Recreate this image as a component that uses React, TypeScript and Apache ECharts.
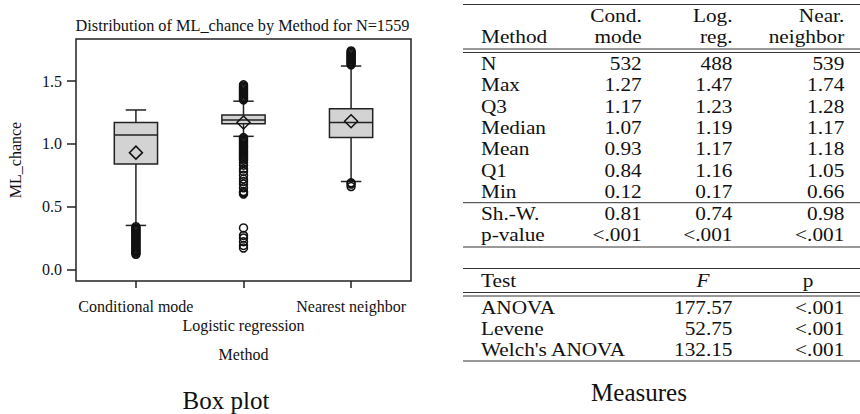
import React, { useEffect, useRef } from 'react';
import * as echarts from 'echarts';

// ---------- Box plot data ----------
const categories = ['Conditional mode', 'Logistic regression', 'Nearest neighbor'];
const whiskerLow = [0.35, 1.06, 0.70];
const q1 = [0.84, 1.16, 1.05];
const medians = [1.07, 1.19, 1.17];
const q3 = [1.17, 1.23, 1.28];
const whiskerHigh = [1.27, 1.34, 1.62];
const means = [0.93, 1.17, 1.18];

const outliersCond = [
  0.12, 0.13, 0.14, 0.15, 0.16, 0.17, 0.18, 0.19, 0.2, 0.21, 0.22, 0.23,
  0.24, 0.25, 0.26, 0.27, 0.28, 0.29, 0.3, 0.31, 0.32, 0.33, 0.34,
];
const outliersLog = [
  1.35, 1.36, 1.37, 1.38, 1.39, 1.4, 1.41, 1.42, 1.43, 1.44, 1.45, 1.46, 1.47,
  1.05, 1.04, 1.03, 1.02, 1.01, 1.0, 0.99, 0.98, 0.97, 0.96, 0.95, 0.94, 0.93,
  0.92, 0.91, 0.9, 0.89, 0.88, 0.87, 0.85, 0.83, 0.8, 0.78, 0.75, 0.72, 0.7,
  0.68, 0.65, 0.62, 0.61, 0.6, 0.33, 0.27, 0.25, 0.22, 0.19, 0.17,
];
const outliersNear = [
  0.66, 0.68, 0.69, 1.63, 1.64, 1.65, 1.66, 1.67, 1.68, 1.69, 1.7, 1.71, 1.72,
  1.73, 1.74,
];
const yTickValues = [0, 0.5, 1.0, 1.5];
const yRange = [-0.0928, 1.8355];
const xRange = [-0.557, 2.557];

const plotTitle = 'Distribution of ML_chance by Method for N=1559';
const yName = 'ML_chance';
const xName = 'Method';
const leftCaption = 'Box plot';
const rightCaption = 'Measures';

// ---------- Table data ----------
const headerTop = ['', 'Cond.', 'Log.', 'Near.'];
const headerBottom = ['Method', 'mode', 'reg.', 'neighbor'];
const statLabels = ['N', 'Max', 'Q3', 'Median', 'Mean', 'Q1', 'Min'];
const statCond = ['532', '1.27', '1.17', '1.07', '0.93', '0.84', '0.12'];
const statLog = ['488', '1.47', '1.23', '1.19', '1.17', '1.16', '0.17'];
const statNear = ['539', '1.74', '1.28', '1.17', '1.18', '1.05', '0.66'];
const normLabels = ['Sh.-W.', 'p-value'];
const normCond = ['0.81', '<.001'];
const normLog = ['0.74', '<.001'];
const normNear = ['0.98', '<.001'];
const testHeader = ['Test', 'F', 'p'];
const testNames = ['ANOVA', 'Levene', "Welch's ANOVA"];
const testF = ['177.57', '52.75', '132.15'];
const testP = ['<.001', '<.001', '<.001'];

const FAMILY = "'Liberation Serif', 'Times New Roman', serif";
const INK = '#111';
const LINE = '#222';

function txt(
  x: number,
  y: number,
  text: string,
  size: number,
  align: string,
  extra: any = {}
) {
  const { scaleX, italic } = extra;
  return {
    type: 'text',
    x,
    y,
    scaleX: scaleX ?? 1,
    silent: true,
    style: {
      text,
      x: 0,
      y: 0,
      fill: INK,
      font: `${italic ? 'italic ' : ''}${size}px ${FAMILY}`,
      align,
      textAlign: align,
      verticalAlign: 'middle',
      textVerticalAlign: 'middle',
    },
  };
}

function rule(y: number, w = 1) {
  return {
    type: 'line',
    silent: true,
    shape: { x1: 463, y1: y, x2: 860, y2: y },
    style: { stroke: '#333', lineWidth: w },
  };
}

export default function App() {
  const ref = useRef<HTMLDivElement>(null);

  useEffect(() => {
    if (!ref.current) return;
    const chart = echarts.init(ref.current, undefined, { renderer: 'svg' });

    const catIdx = categories.map((_, i) => i);
    const boxData = catIdx.map((i) => [
      i,
      whiskerLow[i],
      q1[i],
      medians[i],
      q3[i],
      whiskerHigh[i],
    ]);
    const outlierData: number[][] = [];
    outliersCond.forEach((v) => outlierData.push([0, v]));
    outliersLog.forEach((v) => outlierData.push([1, v]));
    outliersNear.forEach((v) => outlierData.push([2, v]));
    const meanData = means.map((m, i) => [i, m]);

    // table graphics
    const colX = [481, 641.7, 732.5, 844.3];
    const SX = 1.12;
    const FS = 19;
    const g: any[] = [];
    g.push(txt(242.5, 25, plotTitle, 16.3, 'center'));
    g.push(txt(226, 400, leftCaption, 25, 'center'));
    g.push(txt(639, 392, rightCaption, 25, 'center'));

    g.push(rule(4.5, 1.2));
    headerTop.forEach((h, c) => {
      if (h) g.push(txt(colX[c], 15.3, h, FS, c === 0 ? 'left' : 'right', { scaleX: SX }));
    });
    headerBottom.forEach((h, c) => {
      g.push(txt(colX[c], 36, h, FS, c === 0 ? 'left' : 'right', { scaleX: SX }));
    });
    g.push(rule(49));
    g.push(rule(52.5));
    const rowY0 = 63.5;
    const rowH = 21.3;
    statLabels.forEach((lab, r) => {
      const y = rowY0 + r * rowH;
      g.push(txt(colX[0], y, lab, FS, 'left', { scaleX: SX }));
      g.push(txt(colX[1], y, statCond[r], FS, 'right', { scaleX: SX }));
      g.push(txt(colX[2], y, statLog[r], FS, 'right', { scaleX: SX }));
      g.push(txt(colX[3], y, statNear[r], FS, 'right', { scaleX: SX }));
    });
    g.push(rule(202.7));
    normLabels.forEach((lab, r) => {
      const y = 213 + r * rowH;
      g.push(txt(colX[0], y, lab, FS, 'left', { scaleX: SX }));
      g.push(txt(colX[1], y, normCond[r], FS, 'right', { scaleX: SX }));
      g.push(txt(colX[2], y, normLog[r], FS, 'right', { scaleX: SX }));
      g.push(txt(colX[3], y, normNear[r], FS, 'right', { scaleX: SX }));
    });
    g.push(rule(247));

    g.push(rule(268.5));
    g.push(txt(colX[0], 280, testHeader[0], FS, 'left', { scaleX: SX }));
    g.push(txt(703, 280, testHeader[1], FS, 'center', { scaleX: SX, italic: true }));
    g.push(txt(808, 280, testHeader[2], FS, 'center', { scaleX: SX }));
    g.push(rule(292.5));
    g.push(rule(296));
    testNames.forEach((name, r) => {
      const y = 307 + r * rowH;
      g.push(txt(colX[0], y, name, FS, 'left', { scaleX: SX }));
      g.push(txt(colX[2], y, testF[r], FS, 'right', { scaleX: SX }));
      g.push(txt(colX[3], y, testP[r], FS, 'right', { scaleX: SX }));
    });
    g.push(rule(361));

    const labelStyle = {
      fontSize: 16,
      color: INK,
      fontFamily: FAMILY,
      hideOverlap: false,
      showMinLabel: true,
      showMaxLabel: true,
      formatter: (v: number) => categories[Math.round(v)] ?? '',
    };

    const option: any = {
      animation: false,
      backgroundColor: '#fff',
      textStyle: { fontFamily: FAMILY, color: INK },
      grid: {
        left: 76,
        top: 39,
        width: 335,
        height: 242,
        show: true,
        borderColor: LINE,
        borderWidth: 1.5,
        backgroundColor: 'transparent',
      },
      xAxis: [
        {
          type: 'value',
          position: 'bottom',
          min: xRange[0],
          max: xRange[1],
          axisLine: { show: false, onZero: false },
          splitLine: { show: false },
          axisTick: {
            show: true,
            length: 7,
            customValues: catIdx,
            lineStyle: { color: LINE, width: 1.5 },
          },
          axisLabel: { ...labelStyle, customValues: [0, 2], margin: 17 },
          name: xName,
          nameLocation: 'middle',
          nameGap: 65,
          nameTextStyle: { fontSize: 16, color: INK, fontFamily: FAMILY },
        },
        {
          type: 'value',
          position: 'bottom',
          offset: 0,
          min: xRange[0],
          max: xRange[1],
          axisLine: { show: false, onZero: false },
          splitLine: { show: false },
          axisTick: { show: false },
          axisLabel: { ...labelStyle, customValues: [1], margin: 36.5 },
        },
      ],
      yAxis: {
        type: 'value',
        min: yRange[0],
        max: yRange[1],
        axisLine: { show: false, onZero: false },
        splitLine: { show: false },
        axisTick: {
          show: true,
          length: 9,
          customValues: yTickValues,
          lineStyle: { color: LINE, width: 1.5 },
        },
        axisLabel: {
          customValues: yTickValues,
          margin: 14,
          fontSize: 16,
          color: INK,
          fontFamily: FAMILY,
          showMinLabel: true,
          showMaxLabel: true,
          formatter: (v: number) => v.toFixed(1),
        },
        name: yName,
        nameLocation: 'middle',
        nameGap: 53,
        nameRotate: 90,
        nameTextStyle: { fontSize: 16, color: INK, fontFamily: FAMILY },
      },
      series: [
        {
          type: 'custom',
          clip: false,
          encode: { x: 0, y: [1, 2, 3, 4, 5] },
          data: boxData,
          renderItem: (params: any, api: any) => {
            const idx = api.value(0);
            const lo = api.coord([idx, api.value(1)]);
            const pq1 = api.coord([idx, api.value(2)]);
            const pmed = api.coord([idx, api.value(3)]);
            const pq3 = api.coord([idx, api.value(4)]);
            const hi = api.coord([idx, api.value(5)]);
            const unit = api.size([1, 0])[0];
            const bw = unit * 0.402;
            const cw = unit * 0.19;
            const cx = lo[0];
            const ls = { stroke: LINE, lineWidth: 1.5, fill: null };
            return {
              type: 'group',
              children: [
                { type: 'line', shape: { x1: cx, y1: hi[1], x2: cx, y2: pq3[1] }, style: ls },
                { type: 'line', shape: { x1: cx, y1: pq1[1], x2: cx, y2: lo[1] }, style: ls },
                { type: 'line', shape: { x1: cx - cw / 2, y1: hi[1], x2: cx + cw / 2, y2: hi[1] }, style: ls },
                { type: 'line', shape: { x1: cx - cw / 2, y1: lo[1], x2: cx + cw / 2, y2: lo[1] }, style: ls },
                {
                  type: 'rect',
                  shape: { x: cx - bw / 2, y: pq3[1], width: bw, height: pq1[1] - pq3[1] },
                  style: { fill: '#d3d3d3', stroke: LINE, lineWidth: 1.5 },
                },
                { type: 'line', shape: { x1: cx - bw / 2, y1: pmed[1], x2: cx + bw / 2, y2: pmed[1] }, style: ls },
              ],
            };
          },
        },
        {
          type: 'scatter',
          clip: false,
          symbol: 'circle',
          symbolSize: 8,
          data: outlierData,
          itemStyle: { color: 'rgba(0,0,0,0)', borderColor: INK, borderWidth: 1.5, opacity: 1 },
          emphasis: { disabled: true },
        },
        {
          type: 'scatter',
          clip: false,
          symbol: 'diamond',
          symbolSize: 13,
          z: 5,
          data: meanData,
          itemStyle: { color: 'rgba(0,0,0,0)', borderColor: INK, borderWidth: 1.5, opacity: 1 },
          emphasis: { disabled: true },
        },
      ],
      graphic: { elements: g },
    };

    chart.setOption(option);
    return () => chart.dispose();
  }, []);

  return (
    <div
      ref={ref}
      style={{ position: 'fixed', left: 0, top: 0, width: 860, height: 414 }}
    />
  );
}
